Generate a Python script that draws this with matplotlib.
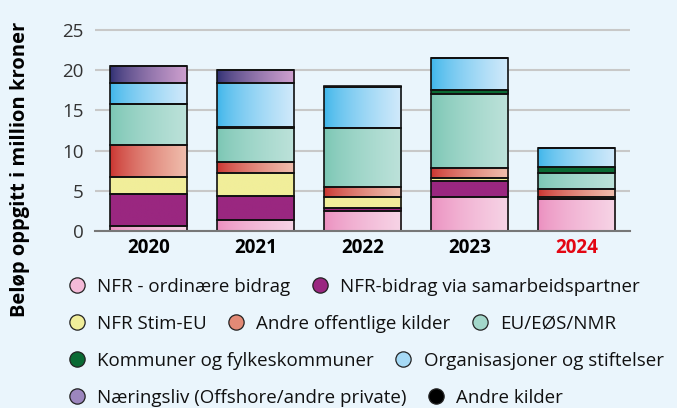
import matplotlib
matplotlib.use("Agg")
import matplotlib.pyplot as plt
import numpy as np
from matplotlib.colors import LinearSegmentedColormap
from matplotlib.lines import Line2D

plt.rcParams['font.family'] = ['Open Sans', 'DejaVu Sans']

years = ['2020', '2021', '2022', '2023', '2024']

# millioner kroner, lest av figuren (nedenfra og opp)
nfr_ordinaere = [0.6, 1.3, 2.45, 4.2, 3.95]
nfr_samarbeid = [4.05, 3.1, 0.45, 2.0, 0.0]
nfr_stim_eu = [2.05, 2.75, 1.35, 0.35, 0.3]
andre_offentlige = [4.05, 1.45, 1.25, 1.25, 0.95]
eu_eos_nmr = [5.0, 4.25, 7.25, 9.2, 2.05]
kommuner = [0.1, 0.1, 0.1, 0.6, 0.65]
organisasjoner = [2.6, 5.45, 5.05, 3.9, 2.4]
naeringsliv = [2.05, 1.6, 0.0, 0.0, 0.0]
andre_kilder = [0.0, 0.0, 0.1, 0.0, 0.0]

labels = ['NFR - ordinære bidrag', 'NFR-bidrag via samarbeidspartner',
          'NFR Stim-EU', 'Andre offentlige kilder', 'EU/EØS/NMR',
          'Kommuner og fylkeskommuner', 'Organisasjoner og stiftelser',
          'Næringsliv (Offshore/andre private)', 'Andre kilder']
series = [nfr_ordinaere, nfr_samarbeid, nfr_stim_eu, andre_offentlige,
          eu_eos_nmr, kommuner, organisasjoner, naeringsliv, andre_kilder]
# (venstre farge, hoyre farge) - gradient fra venstre mot hoyre
farger = [('#EB8DBE', '#F7D4E6'), ('#9A2780', '#9A2780'),
          ('#F1EE9A', '#F1EE9A'), ('#C9302C', '#F0BFAE'),
          ('#78C5B2', '#BDE2DA'), ('#0A6A34', '#0A6A34'),
          ('#3AB4EA', '#D2EAFB'), ('#2B2D70', '#CFA0CF'),
          ('#000000', '#000000')]
legend_farger = ['#F4BAD8', '#9A2780', '#F1EE9A', '#E38A76', '#A3D7CA',
                 '#0A6A34', '#A6DAF6', '#9C86BE', '#000000']

bg = '#EAF5FC'
fig = plt.figure(figsize=(6.77, 4.08), dpi=100, facecolor=bg)
ax = fig.add_axes([0.140, 0.434, 0.791, 0.512])
ax.set_facecolor(bg)

x = np.arange(len(years))
w = 0.72
grad = np.linspace(0, 1, 256) ** 0.7
bunn = np.zeros(len(years))
for vals, (c0, c1) in zip(series, farger):
    vals = np.array(vals)
    cmap = LinearSegmentedColormap.from_list('g', [c0, c1])
    for i in range(len(years)):
        if vals[i] <= 0:
            continue
        ax.imshow(grad[None, :], cmap=cmap, aspect='auto',
                  extent=[x[i] - w / 2, x[i] + w / 2, bunn[i], bunn[i] + vals[i]],
                  zorder=2, interpolation='bilinear')
    ax.bar(x, vals, w, bottom=bunn, fill=False, edgecolor='#111111',
           linewidth=1.2, zorder=3)
    bunn += vals

ax.set_xlim(-0.5, 4.5)
ax.set_ylim(0, 26)
ax.set_yticks([0, 5, 10, 15, 20, 25])
ax.set_xticks(x)
ax.set_xticklabels(years, fontsize=13.5, fontweight='bold')
ax.get_xticklabels()[-1].set_color('#E30613')
ax.tick_params(axis='y', length=0, labelsize=13.5, labelcolor='#333333', pad=8)
ax.tick_params(axis='x', length=0, pad=5)
ax.yaxis.grid(True, color='#C8C8C8', linewidth=1.5, zorder=0)
ax.set_axisbelow(True)
for s in ['top', 'right', 'left']:
    ax.spines[s].set_visible(False)
ax.spines['bottom'].set_color('#777777')
ax.spines['bottom'].set_linewidth(1.5)
ax.spines['bottom'].set_zorder(4)

fig.text(20 / 677, 1 - 169 / 408, 'Beløp oppgitt i million kroner', rotation=90,
         va='center', ha='center', fontsize=14.5, fontweight='bold')

# legend i fire rader, som i originalen
rader = [[0, 1], [2, 3, 4], [5, 6], [7, 8]]
rad_y = [287, 324, 361, 398]
for rad, yy in zip(rader, rad_y):
    handles = [Line2D([], [], marker='o', linestyle='none', markersize=11,
                      markerfacecolor=legend_farger[k], markeredgecolor='#222222',
                      markeredgewidth=0.9) for k in rad]
    leg = fig.legend(handles, [labels[k] for k in rad], ncol=len(rad),
                     loc='center left', bbox_to_anchor=(68 / 677, 1 - yy / 408),
                     frameon=False, fontsize=13.5, borderpad=0, borderaxespad=0,
                     handlelength=0.95, handletextpad=0.6, columnspacing=1.1)
    for t in leg.get_texts():
        t.set_color('#111111')

fig.savefig('out.png', dpi=100, facecolor=bg)
